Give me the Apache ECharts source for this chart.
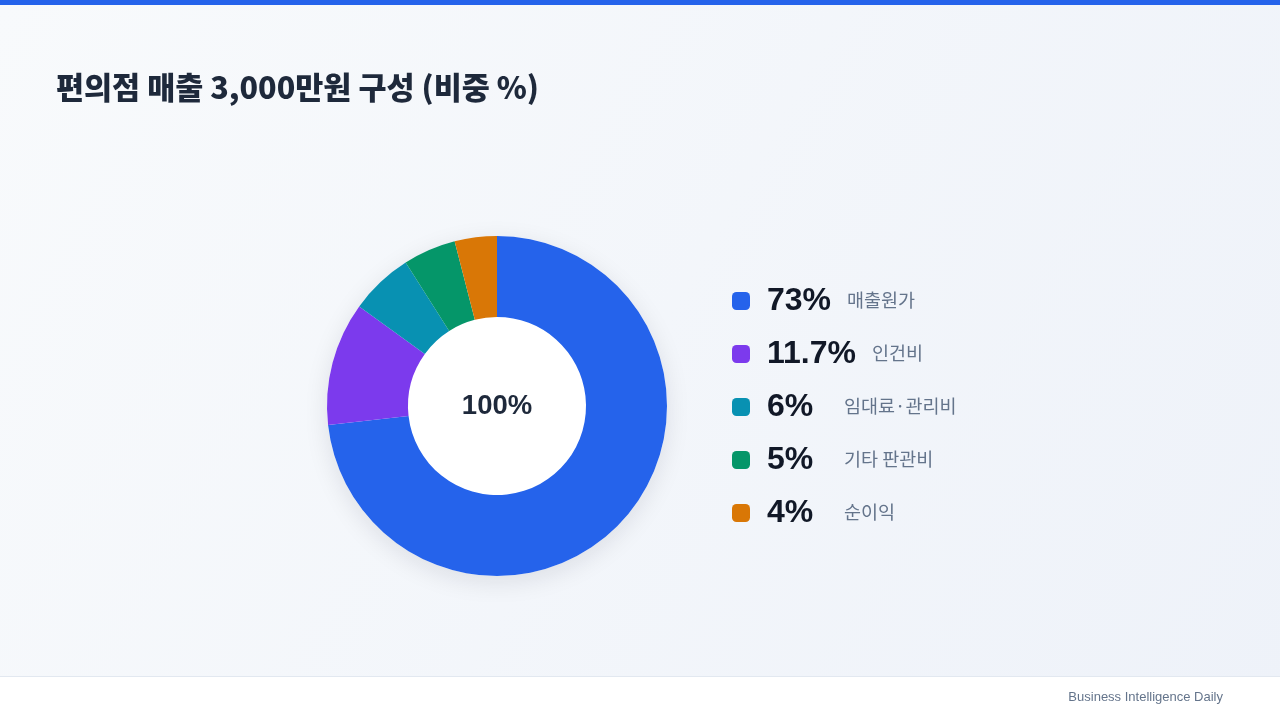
<!DOCTYPE html>
<html>
<head>
<meta charset="utf-8">
<script src="https://cdn.jsdelivr.net/npm/echarts@6/dist/echarts.min.js"></script>
<style>
html,body{margin:0;padding:0;width:1280px;height:720px;overflow:hidden;}
#c{width:1280px;height:720px;}
</style>
</head>
<body>
<div id="c"></div>
<script>
const titleText = '편의점 매출 3,000만원 구성 (비중 %)';
const categories = ['매출원가', '인건비', '임대료·관리비', '기타 판관비', '순이익'];
const values = [73, 11.7, 6, 5, 4];
const colors = ['#2563eb', '#7c3aed', '#0891b2', '#059669', '#d97706'];
const centerLabel = '100%';
const footerText = 'Business Intelligence Daily';

const chart = echarts.init(document.getElementById('c'));
const numFont = '"Liberation Sans", "Noto Sans CJK KR", sans-serif';
const krFont = '"Noto Sans CJK KR", "Liberation Sans", sans-serif';

const option = {
  backgroundColor: new echarts.graphic.LinearGradient(0, 0, 1, 1, [
    { offset: 0, color: '#f8fafc' },
    { offset: 1, color: '#eef2f9' }
  ]),
  animation: false,
  title: {
    text: titleText,
    left: 56,
    top: 72,
    padding: 0,
    textStyle: { fontFamily: krFont, fontSize: 30.5, fontWeight: 900, color: '#1e293b' }
  },
  legend: {
    orient: 'vertical',
    left: 732,
    top: 285,
    padding: 0,
    itemWidth: 18,
    itemHeight: 18,
    itemGap: 21,
    icon: 'roundRect',
    selectedMode: false,
    data: categories,
    formatter: function (name) {
      const i = categories.indexOf(name);
      const pct = values[i] + '%';
      const key = pct.length <= 2 ? 'vs' : 'v';
      return '{' + key + '|' + pct + '}{n|' + name + '}';
    },
    textStyle: {
      padding: [0, 0, 0, 12],
      rich: {
        v: { fontFamily: numFont, fontSize: 32, fontWeight: 'bold', color: '#111827', lineHeight: 36, padding: [0, 16, 0, 0] },
        vs: { fontFamily: numFont, fontSize: 32, fontWeight: 'bold', color: '#111827', lineHeight: 36, width: 61, padding: [0, 16, 0, 0] },
        n: { fontFamily: krFont, fontSize: 18.5, color: '#64748b', lineHeight: 36, padding: [0, 0, 2, 0] }
      }
    }
  },
  graphic: [
    { type: 'rect', left: 0, top: 0, shape: { width: 1280, height: 5 }, style: { fill: '#2563eb' }, z: 10 },
    { type: 'rect', left: 0, top: 676, shape: { width: 1280, height: 44 }, style: { fill: '#ffffff' }, z: 10 },
    { type: 'rect', left: 0, top: 676, shape: { width: 1280, height: 1 }, style: { fill: '#e2e8f0' }, z: 11 },
    { type: 'text', right: 57, top: 691, style: { text: footerText, fontFamily: numFont, fontSize: 13, fill: '#64748b' }, z: 11 }
  ],
  series: [
    {
      type: 'pie',
      silent: true,
      center: [497, 406],
      radius: [0, 170],
      label: { show: true, position: 'center', formatter: centerLabel, fontFamily: numFont, fontSize: 27.5, fontWeight: 'bold', color: '#1e293b' },
      labelLine: { show: false },
      itemStyle: { color: '#ffffff', borderWidth: 0, shadowBlur: 24, shadowColor: 'rgba(15,23,42,0.10)', shadowOffsetY: 6 },
      data: [{ value: 1, name: '_bg' }],
      z: 1
    },
    {
      type: 'pie',
      center: [497, 406],
      radius: [89, 170],
      startAngle: 90,
      clockwise: true,
      label: { show: false },
      labelLine: { show: false },
      emphasis: { disabled: true },
      itemStyle: { borderWidth: 0 },
      data: categories.map((n, i) => ({ name: n, value: values[i], itemStyle: { color: colors[i], borderWidth: 0 } })),
      z: 2
    }
  ]
};
chart.setOption(option);
</script>
</body>
</html>
